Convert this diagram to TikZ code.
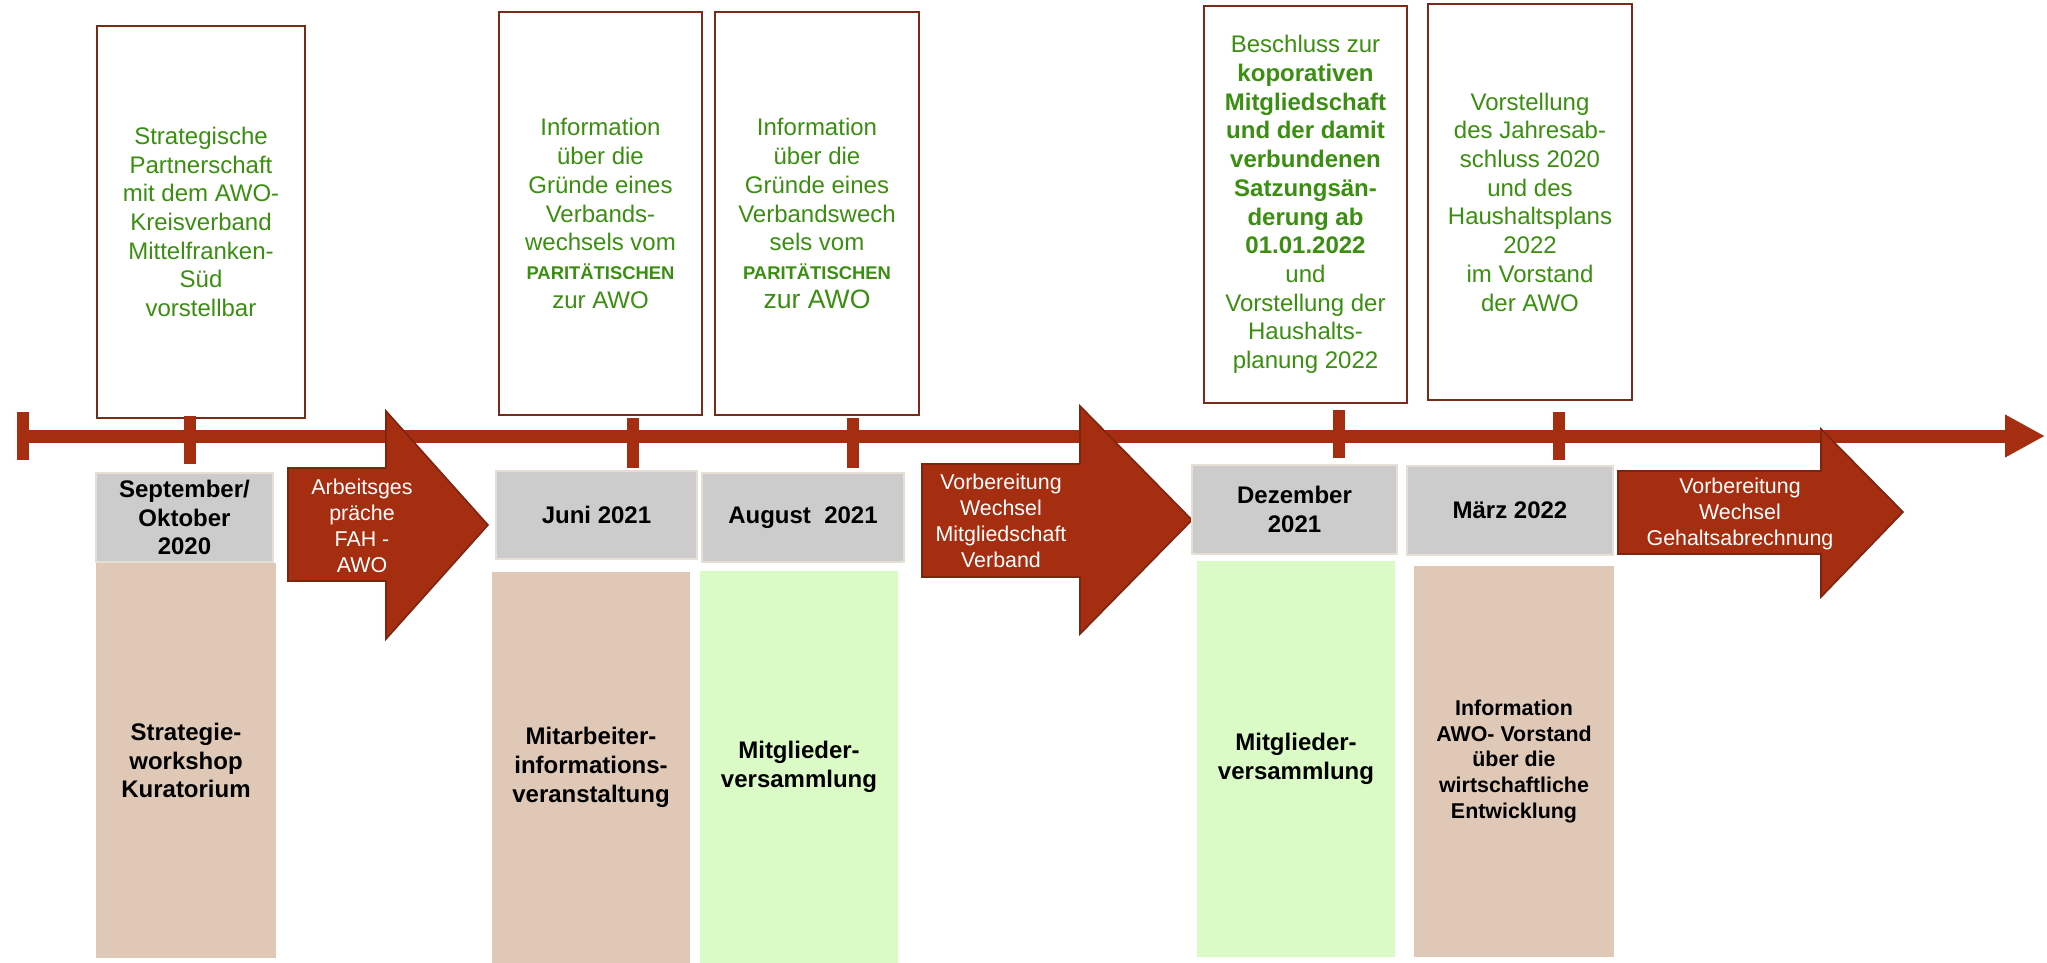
\documentclass[tikz,border=0pt]{standalone}
\usepackage{fontspec}
\setmainfont{Liberation Sans}
\usetikzlibrary{arrows.meta}
\definecolor{tlred}{HTML}{A52D10}
\definecolor{arrdark}{HTML}{7E2510}
\definecolor{boxbrown}{HTML}{7A2A18}
\definecolor{txtgreen}{HTML}{3A8E10}
\definecolor{graybox}{HTML}{CCCCCC}
\definecolor{grayedge}{HTML}{E6DFD6}
\definecolor{tanbox}{HTML}{E0C8B6}
\definecolor{greenbox}{HTML}{DAFBC5}
\begin{document}
\begin{tikzpicture}[x=0.5pt,y=-0.5pt,
  topbox/.style={draw=boxbrown, line width=1.1pt, fill=white, text=txtgreen, align=center, inner sep=0pt, font=\fontsize{12}{14.35}\selectfont},
  datebox/.style={draw=grayedge, line width=1.2pt, fill=graybox, align=center, inner sep=0pt, font=\fontsize{12}{14.35}\selectfont\bfseries},
  evbox/.style={fill=#1, align=center, inner sep=0pt, font=\fontsize{12}{14.35}\selectfont\bfseries},
  arrtext/.style={text=white, align=center, inner sep=0pt, font=\fontsize{10.7}{12.9}\selectfont},
  blockarrow/.style={fill=tlred, draw=arrdark, line width=0.8pt, line join=miter},
  tlline/.style={draw=tlred, line width=6.5pt},
  tickmark/.style={draw=tlred, line width=6pt},
]
\useasboundingbox (0,0) rectangle (2047,963);

% top boxes
\node[topbox, minimum width=104pt, minimum height=196pt] (t1) at (201,222)
  {Strategische\\Partnerschaft\\mit dem AWO-\\Kreisverband\\Mittelfranken-\\Süd\\vorstellbar};
\node[topbox, minimum width=101.5pt, minimum height=201.5pt] (t2) at (600.5,213.5)
  {Information\\über die\\Gründe eines\\Verbands-\\wechsels vom\\{\fontsize{9.2}{11}\selectfont\bfseries PARITÄTISCHEN}\\zur AWO};
\node[topbox, minimum width=102pt, minimum height=201.5pt] (t3) at (817,213.5)
  {Information\\über die\\Gründe eines\\Verbandswech\\sels vom\\{\fontsize{9.2}{11}\selectfont\bfseries PARITÄTISCHEN}\\{\fontsize{13.3}{15}\selectfont zur AWO}};
\node[topbox, minimum width=101.5pt, minimum height=198.5pt] (t4) at (1305.5,204.5)
  {Beschluss zur\\\textbf{koporativen}\\\textbf{Mitgliedschaft}\\\textbf{und der damit}\\\textbf{verbundenen}\\\textbf{Satzungsän-}\\\textbf{derung ab}\\\textbf{01.01.2022}\\und\\Vorstellung der\\Haushalts-\\planung 2022};
\node[topbox, minimum width=102pt, minimum height=198pt] (t5) at (1530,202)
  {Vorstellung\\des Jahresab-\\schluss 2020\\und des\\Haushaltsplans\\2022\\im Vorstand\\der AWO};

% timeline
\coordinate (tlA) at (17,436);
\coordinate (tlB) at (2045,436);
\fill[tlred] (17,412) rectangle (29,460);
\draw[tlline, -{Triangle[length=20pt,width=20pt]}] (tlA) -- (tlB);
\coordinate (k1) at (190,440);
\coordinate (k2) at (633,443);
\coordinate (k3) at (853,443);
\coordinate (k4) at (1339,434);
\coordinate (k5) at (1559,436);
\draw[tickmark] (k1) +(0,-24) -- +(0,24);
\draw[tickmark] (k2) +(0,-25) -- +(0,25);
\draw[tickmark] (k3) +(0,-25) -- +(0,25);
\draw[tickmark] (k4) +(0,-24) -- +(0,24);
\draw[tickmark] (k5) +(0,-24) -- +(0,24);

% block arrows
\draw[blockarrow] (288,468) -- (386,468) -- (386,411) -- (488,525) -- (386,639) -- (386,581) -- (288,581) -- cycle;
\node[arrtext] (a1) at (362,526) {Arbeitsges\\präche\\FAH -\\AWO};
\draw[blockarrow] (922,464) -- (1080,464) -- (1080,406) -- (1192,520) -- (1080,634) -- (1080,577) -- (922,577) -- cycle;
\node[arrtext] (a2) at (1001,521) {Vorbereitung\\Wechsel\\Mitgliedschaft\\Verband};
\draw[blockarrow] (1618,471) -- (1821,471) -- (1821,429) -- (1903,512) -- (1821,597) -- (1821,554) -- (1618,554) -- cycle;
\node[arrtext] (a3) at (1740,514) {Vorbereitung\\Wechsel\\Gehaltsabrechnung};

% date boxes
\node[datebox, minimum width=88.5pt, minimum height=44.5pt] (d1) at (184.5,517.5) {September/\\Oktober\\2020};
\node[datebox, minimum width=100.5pt, minimum height=44pt] (d2) at (596.5,515) {Juni 2021};
\node[datebox, minimum width=101pt, minimum height=44.5pt] (d3) at (803,517.5) {August~~2021};
\node[datebox, minimum width=102.5pt, minimum height=44.5pt] (d4) at (1294.5,509.5) {Dezember\\2021};
\node[datebox, minimum width=103pt, minimum height=44.5pt] (d5) at (1510,510.5) {März 2022};

% event boxes
\node[evbox=tanbox, minimum width=90pt, minimum height=197.5pt] (e1) at (186,760.5) {Strategie-\\workshop\\Kuratorium};
\node[evbox=tanbox, minimum width=99pt, minimum height=195.5pt] (e2) at (591,767.5) {Mitarbeiter-\\informations-\\veranstaltung};
\node[evbox=greenbox, minimum width=99pt, minimum height=196pt] (e3) at (799,767) {Mitglieder-\\versammlung};
\node[evbox=greenbox, minimum width=99pt, minimum height=198pt] (e4) at (1296,759) {Mitglieder-\\versammlung};
\node[evbox=tanbox, minimum width=100pt, minimum height=195.5pt, font=\fontsize{10.7}{12.85}\selectfont\bfseries] (e5) at (1514,761.5) {Information\\AWO- Vorstand\\über die\\wirtschaftliche\\Entwicklung};
\end{tikzpicture}
\end{document}
